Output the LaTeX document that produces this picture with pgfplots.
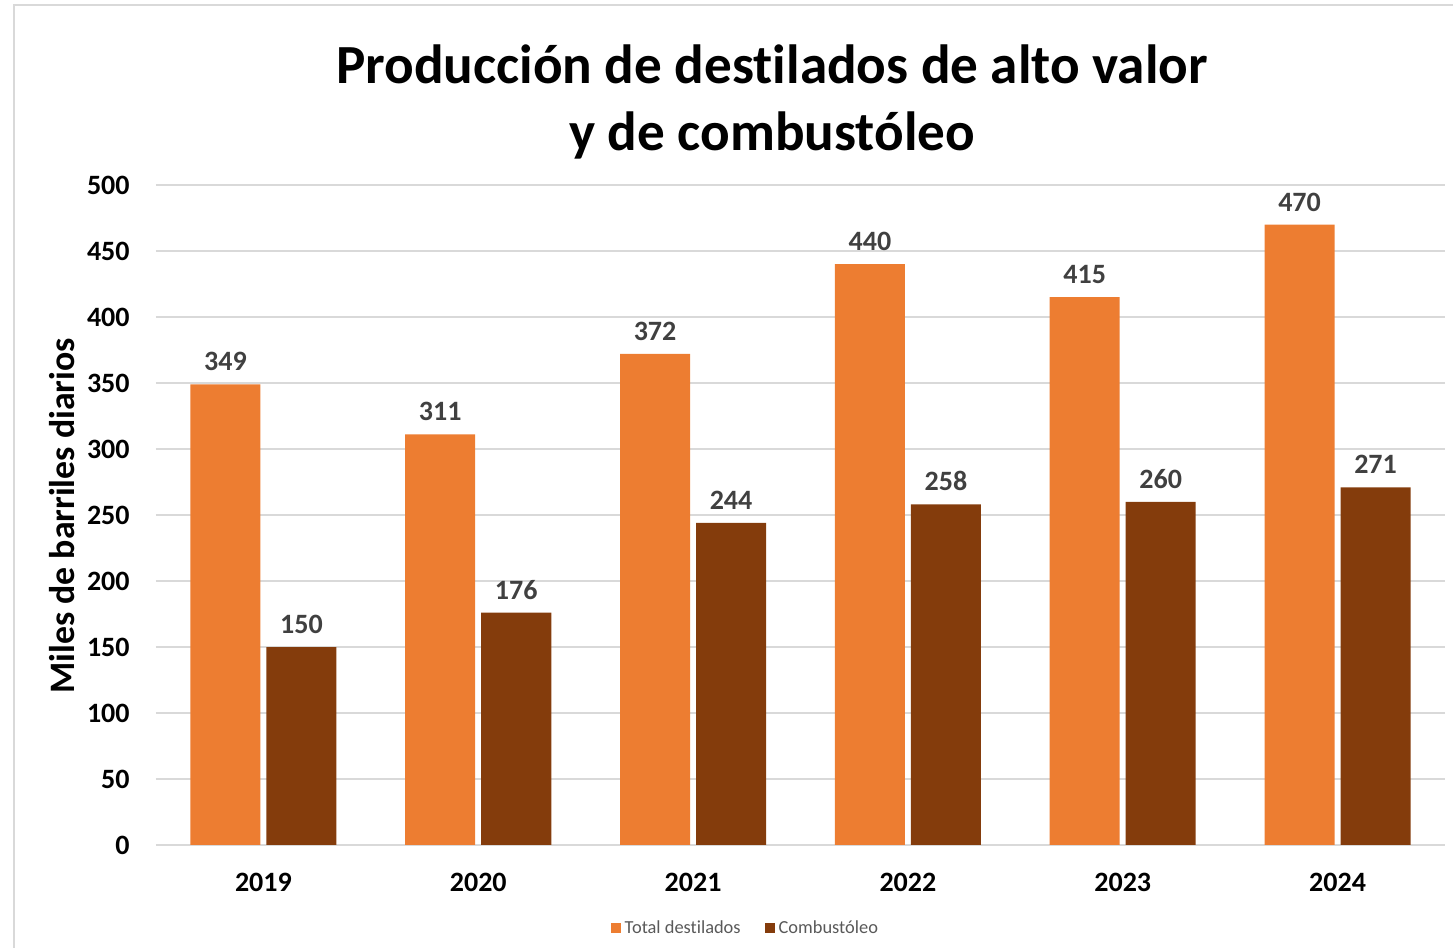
\documentclass[border=0pt]{standalone}
\usepackage{pgfplots}
\pgfplotsset{compat=1.18}
\usepackage{fontspec}
\setmainfont{Carlito}[Ligatures=NoCommon]
\definecolor{cOrange}{HTML}{ED7D31}
\definecolor{cBrown}{HTML}{843C0C}
\definecolor{cGrid}{HTML}{D9D9D9}
\definecolor{cLab}{HTML}{404040}
\definecolor{cLeg}{HTML}{595959}
\begin{document}
\begin{tikzpicture}
\draw[cGrid, line width=1pt] (7pt,-20pt) -- (7pt,471.5pt) -- (760pt,471.5pt);
\node[font=\fontsize{27.6pt}{33.5pt}\selectfont\bfseries, align=center] at (386pt,423.2pt) {Producción de destilados de alto valor\\y de combustóleo};
\node[font=\fontsize{17.9pt}{21pt}\selectfont\bfseries, rotate=90] at (31pt,216pt) {Miles de barriles diarios};
\begin{axis}[
  at={(78pt,51.5pt)}, anchor=south west,
  scale only axis, width=644.5pt, height=330pt,
  ybar=3pt, bar width=35pt,
  xmin=-0.5, xmax=5.5, ymin=0, ymax=500,
  xtick=data, xticklabels={2019,2020,2021,2022,2023,2024},
  ytick={0,50,...,500},
  axis line style={draw=none},
  major tick length=0pt,
  ymajorgrids, grid style={cGrid, line width=1pt},
  /pgf/number format/assume math mode=true,
  ticklabel style={font=\fontsize{14pt}{16pt}\selectfont\bfseries, text=black, inner sep=0pt},
  yticklabel style={anchor=east, xshift=-13pt},
  xticklabel style={anchor=north, yshift=-14pt},
  nodes near coords,
  every node near coord/.append style={font=\fontsize{14pt}{16pt}\selectfont\bfseries, text=cLab, inner sep=0pt, anchor=south, yshift=6.5pt},
  legend columns=2,
  legend style={at={(axis description cs:0.458,-0.126)}, anchor=center, draw=none, fill=none,
    font=\fontsize{9.2pt}{10pt}\selectfont, text=cLeg,
    /tikz/every even column/.append style={column sep=10pt}},
  legend image code/.code={\fill[#1] (0pt,-2.5pt) rectangle (5pt,2.5pt);},
]
\addplot[fill=cOrange, draw=none] coordinates {(0,349) (1,311) (2,372) (3,440) (4,415) (5,470)};
\addplot[fill=cBrown, draw=none] coordinates {(0,150) (1,176) (2,244) (3,258) (4,260) (5,271)};
\legend{Total destilados, Combustóleo}
\end{axis}
\pgfresetboundingbox
\useasboundingbox (0,0) rectangle (726.5pt,474pt);
\end{tikzpicture}
\end{document}
